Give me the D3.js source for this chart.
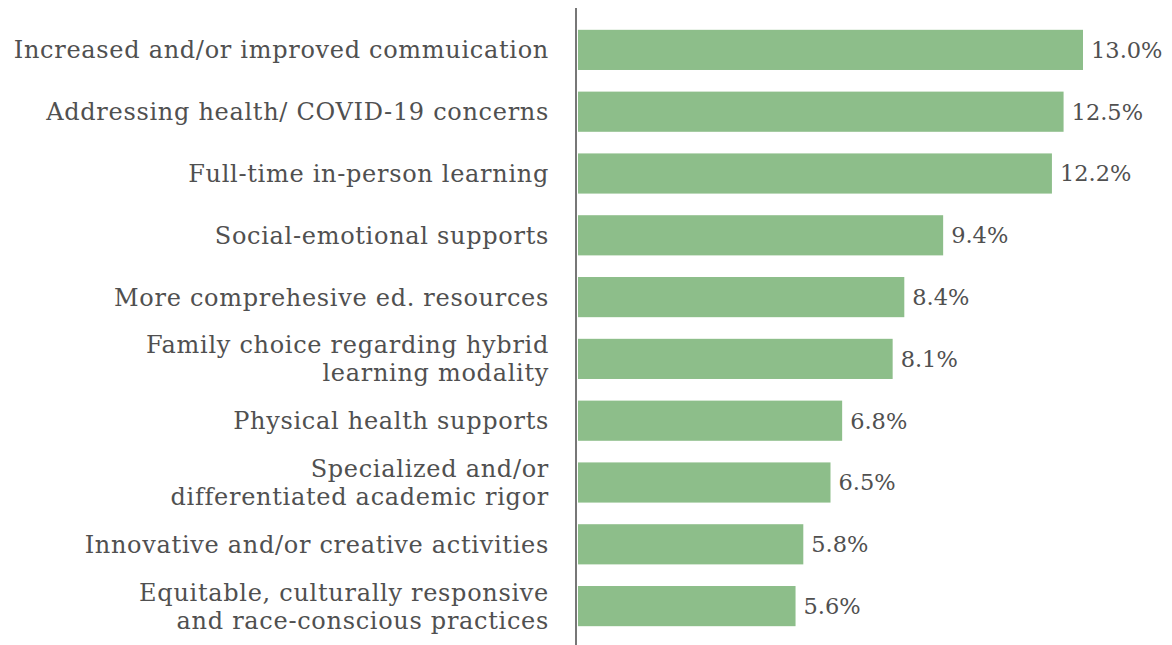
<!DOCTYPE html>
<html>
<head>
<meta charset="utf-8">
<script src="https://cdn.jsdelivr.net/npm/d3@7"></script>
<style>
  html, body { margin: 0; padding: 0; background: #fff; }
  svg { display: block; }
</style>
</head>
<body>
<svg id="chart" width="1172" height="645"></svg>
<script>
// Categories (each entry is a list of label lines) and their shares in percent
const categories = [
  ["Increased and/or improved commuication"],
  ["Addressing health/ COVID-19 concerns"],
  ["Full-time in-person learning"],
  ["Social-emotional supports"],
  ["More comprehesive ed. resources"],
  ["Family choice regarding hybrid", "learning modality"],
  ["Physical health supports"],
  ["Specialized and/or", "differentiated academic rigor"],
  ["Innovative and/or creative activities"],
  ["Equitable, culturally responsive", "and race-conscious practices"]
];
const values = [13.0, 12.5, 12.2, 9.4, 8.4, 8.1, 6.8, 6.5, 5.8, 5.6];
const valueLabels = ["13.0%", "12.5%", "12.2%", "9.4%", "8.4%", "8.1%", "6.8%", "6.5%", "5.8%", "5.6%"];

const svg = d3.select("#chart");
const margin = { left: 578, top: 19 };
const plotW = 505;
const fontFamily = "'DejaVu Serif', 'Liberation Serif', serif";

const x = d3.scaleLinear().domain([0, 13]).range([0, plotW]);
const y = d3.scaleBand()
  .domain(d3.range(categories.length))
  .range([margin.top, margin.top + 618])
  .paddingInner(0.35)
  .paddingOuter(0.175);

const g = svg.append("g").attr("transform", `translate(${margin.left},0)`);

// Bars
g.selectAll("rect.bar")
  .data(values)
  .join("rect")
  .attr("class", "bar")
  .attr("x", 0)
  .attr("y", (d, i) => y(i))
  .attr("width", d => x(d))
  .attr("height", y.bandwidth())
  .attr("fill", "#8dbe8a");

// Value labels
g.selectAll("text.val")
  .data(values)
  .join("text")
  .attr("class", "val")
  .attr("x", d => x(d) + 8)
  .attr("y", (d, i) => y(i) + y.bandwidth() / 2)
  .attr("dy", "0.35em")
  .attr("font-family", fontFamily)
  .attr("font-size", 22.5)
  .attr("fill", "#505050")
  .text((d, i) => valueLabels[i]);

// Category labels (right-aligned, possibly two lines)
const labels = svg.append("g");
categories.forEach((lines, i) => {
  const cy = y(i) + y.bandwidth() / 2;
  const lh = 28;
  const t = labels.append("text")
    .attr("text-anchor", "end")
    .attr("font-family", fontFamily)
    .attr("font-size", 24)
    .attr("letter-spacing", 0.7)
    .attr("fill", "#505050");
  lines.forEach((line, j) => {
    t.append("tspan")
      .attr("x", 549)
      .attr("y", cy + (j - (lines.length - 1) / 2) * lh)
      .attr("dy", "0.35em")
      .text(line);
  });
});

// Vertical axis line
svg.append("line")
  .attr("x1", 576).attr("x2", 576)
  .attr("y1", 8).attr("y2", 645)
  .attr("stroke", "#777")
  .attr("stroke-width", 2);
</script>
</body>
</html>
